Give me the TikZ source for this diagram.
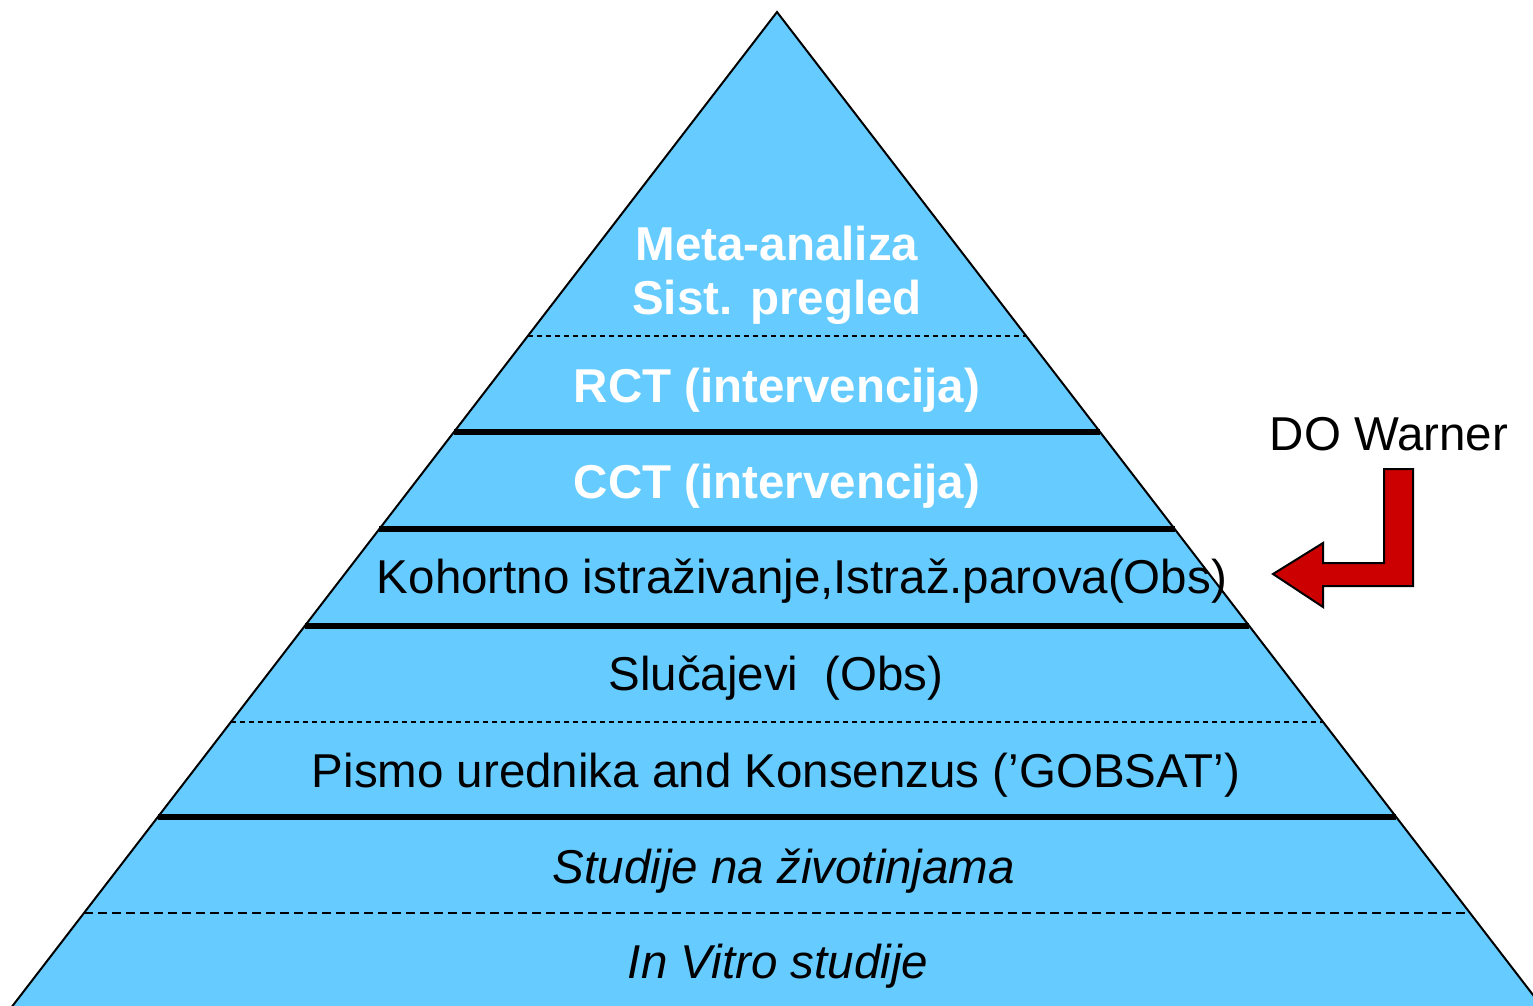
\documentclass[tikz,border=0pt]{standalone}
\usepackage{fontspec}
\setmainfont{Liberation Sans}
\usetikzlibrary{calc}
\definecolor{pyrblue}{HTML}{66CCFF}
\definecolor{arrowred}{HTML}{CC0000}
\begin{document}
\begin{tikzpicture}[x=1pt,y=-1pt,
  lbl/.style={anchor=base,inner sep=0pt,font=\fontsize{47.5}{54}\selectfont},
  toplbl/.style={lbl,text=white,font=\fontsize{47.5}{54}\selectfont\bfseries},
  sep/.style={line width=6pt},
  dsep/.style={line width=2pt,dash pattern=on 5pt off 4pt},
  dsepwide/.style={line width=2pt,dash pattern=on 9pt off 5pt}]
\clip (0,0) rectangle (1533,1005);
\coordinate (apex) at (777,12);
\coordinate (bl) at (-6,1030);
\coordinate (br) at (1560,1030);
% pyramid body
\fill[pyrblue] (apex) -- (bl) -- (br) -- cycle;
% level boundaries (fraction of the height from the apex)
\foreach \yy/\st in {336/dsep,432/sep,529/sep,626/sep,722/dsep,817/sep,913/dsepwide}{
  \pgfmathsetmacro{\t}{(\yy-12)/1018}
  \draw[\st] ($(apex)!\t!(bl)$) -- ($(apex)!\t!(br)$);
}
\draw[line width=2pt,line join=miter] (bl) -- (apex) -- (br);
% level labels
\node[toplbl] (meta) at (777,260) {Meta-analiza};
\node[toplbl] (sist) at (777,314) {Sist. pregled};
\node[toplbl] (rct) at (777,402) {RCT (intervencija)};
\node[toplbl] (cct) at (777,498) {CCT (intervencija)};
\node[lbl] (koh) at (802,593) {Kohortno istraživanje,Istraž.parova(Obs)};
\node[lbl] (sluc) at (776,690) {Slučajevi\ \ (Obs)};
\node[lbl] (pismo) at (776,787) {Pismo urednika and Konsenzus (’GOBSAT’)};
\node[lbl,font=\fontsize{47.5}{54}\selectfont\itshape] (stud) at (784,883) {Studije na životinjama};
\node[lbl,font=\fontsize{47.5}{54}\selectfont\itshape] (invitro) at (778,978) {In Vitro studije};
% side note with bent arrow
\node[lbl] (warner) at (1389,450) {DO Warner};
\draw[line width=2pt,fill=arrowred,line join=miter]
  (1384,469) -- (1413,469) -- (1413,586) -- (1323,586) -- (1323,607)
  -- (1273,574) -- (1323,543) -- (1323,563) -- (1384,563) -- cycle;
\end{tikzpicture}
\end{document}
